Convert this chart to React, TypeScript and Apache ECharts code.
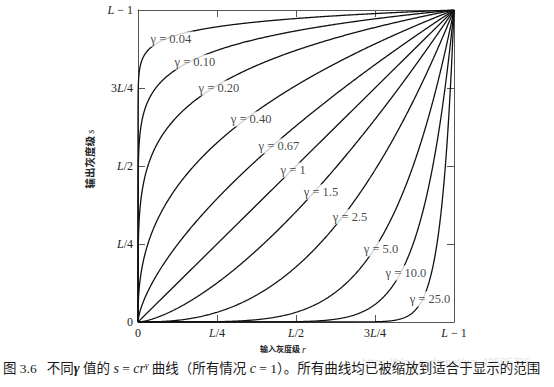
import React, { useEffect, useRef } from 'react';
import * as echarts from 'echarts';

// Gamma values of the curves s = c * r^gamma (c = 1)
const gammas = [0.04, 0.1, 0.2, 0.4, 0.67, 1, 1.5, 2.5, 5.0, 10.0, 25.0];
const gammaLabels = ['γ = 0.04', 'γ = 0.10', 'γ = 0.20', 'γ = 0.40', 'γ = 0.67', 'γ = 1', 'γ = 1.5', 'γ = 2.5', 'γ = 5.0', 'γ = 10.0', 'γ = 25.0'];
// Label anchor positions (r, s)
const labelR = [0.104, 0.18, 0.256, 0.358, 0.446, 0.491, 0.579, 0.671, 0.769, 0.848, 0.924];
const labelS = [0.907, 0.833, 0.75, 0.651, 0.564, 0.487, 0.417, 0.337, 0.234, 0.157, 0.074];
// Tick labels (0, L/4, L/2, 3L/4, L-1)
const tickLabels = ['0', '{i|L}/4', '{i|L}/2', '3{i|L}/4', '{i|L} − 1'];
const xTitle = '输入灰度级 {i|r}';
const yTitle = '输出灰度级 {i|s}';
const caption = '图 3.6   不同{g|γ} 值的 {i|s} = {i|cr}{sup|γ} 曲线（所有情况 {i|c} = 1）。所有曲线均已被缩放到适合于显示的范围';
const watermark = 'https://blog.csdn.net/qq_42505705';

export default function App() {
  const ref = useRef<HTMLDivElement>(null);
  useEffect(() => {
    const chart = echarts.init(ref.current!, null, { renderer: 'svg' });
    const serif = "'Liberation Serif', 'Times New Roman', serif";
    const mixed = "'Liberation Serif', 'Noto Sans CJK SC', serif";
    const rSamples: number[] = [0, 1e-12, 1e-9, 1e-6, 1e-5, 1e-4, 5e-4];
    for (let i = 1; i <= 1000; i++) rSamples.push(i / 1000);
    const fmt = (v: number) => tickLabels[Math.round(v * 4)];
    const tickRich = { i: { fontStyle: 'italic', fontFamily: serif, fontSize: 12, color: '#222' } };
    const axisColor = '#555';
    const baseAxis = {
      type: 'value',
      min: 0,
      max: 1,
      interval: 0.25,
      splitLine: { show: false },
      axisLine: { show: true, onZero: false, lineStyle: { color: axisColor, width: 1 } },
      axisTick: { show: true, inside: true, length: 7, lineStyle: { color: axisColor, width: 1 } },
    };
    const labelAxis = {
      ...baseAxis,
      axisLabel: { show: true, formatter: fmt, margin: 5, fontFamily: serif, fontSize: 12, color: '#222', rich: tickRich },
    };
    const plainAxis = { ...baseAxis, axisLabel: { show: false } };

    const lineSeries = gammas.map((g) => ({
      type: 'line',
      showSymbol: false,
      symbol: 'none',
      silent: true,
      z: 2,
      lineStyle: { color: '#111', width: 1.3 },
      data: rSamples.map((r) => [r, Math.pow(r, g)]),
    }));

    chart.setOption({
      animation: false,
      grid: { left: 138, top: 10, width: 316, height: 312 },
      xAxis: [
        { ...labelAxis, position: 'bottom' },
        { ...plainAxis, position: 'top' },
      ],
      yAxis: [
        { ...labelAxis, position: 'left' },
        { ...plainAxis, position: 'right' },
      ],
      series: [
        ...lineSeries,
        {
          type: 'scatter',
          z: 5,
          silent: true,
          symbolSize: 1,
          itemStyle: { color: '#ffffff' },
          data: gammaLabels.map((n, i) => ({ name: n, value: [labelR[i], labelS[i]] })),
          label: {
            show: true,
            position: 'inside',
            formatter: '{b}',
            fontFamily: serif,
            fontSize: 12.5,
            color: '#111',
            backgroundColor: '#fff',
            padding: [1, 2],
          },
        },
      ],
      graphic: [
        {
          type: 'text',
          left: 260,
          top: 344,
          style: {
            text: xTitle,
            fontSize: 8,
            fontWeight: 'bold',
            fontFamily: mixed,
            fill: '#222',
            rich: { i: { fontStyle: 'italic', fontFamily: serif, fontSize: 10, fill: '#222' } },
          },
        },
        {
          type: 'text',
          x: 90,
          y: 159,
          rotation: Math.PI / 2,
          style: {
            text: yTitle,
            fontSize: 10.5,
            fontWeight: 'bold',
            fontFamily: mixed,
            fill: '#222',
            align: 'center',
            verticalAlign: 'middle',
            rich: { i: { fontStyle: 'italic', fontFamily: serif, fontSize: 10, fill: '#222' } },
          },
        },
        {
          type: 'text',
          left: 362,
          top: 356,
          z: 1,
          style: { text: watermark, fontSize: 11, fontFamily: "'Liberation Sans', sans-serif", fill: '#e4e4e4' },
        },
        {
          type: 'text',
          left: 3,
          top: 360,
          z: 2,
          style: {
            text: caption,
            fontSize: 13.5,
            fontFamily: mixed,
            fill: '#1a1a1a',
            rich: {
              i: { fontStyle: 'italic', fontFamily: serif, fontSize: 14, fill: '#1a1a1a' },
              g: { fontStyle: 'italic', fontWeight: 'bold', fontFamily: serif, fontSize: 14, fill: '#1a1a1a' },
              sup: { fontStyle: 'italic', fontFamily: serif, fontSize: 9, fill: '#1a1a1a', padding: [0, 0, 8, 0] },
            },
          },
        },
      ],
    });
    return () => chart.dispose();
  }, []);
  return <div ref={ref} style={{ position: 'fixed', left: 0, top: 0, width: 554, height: 387, background: '#fff' }} />;
}
